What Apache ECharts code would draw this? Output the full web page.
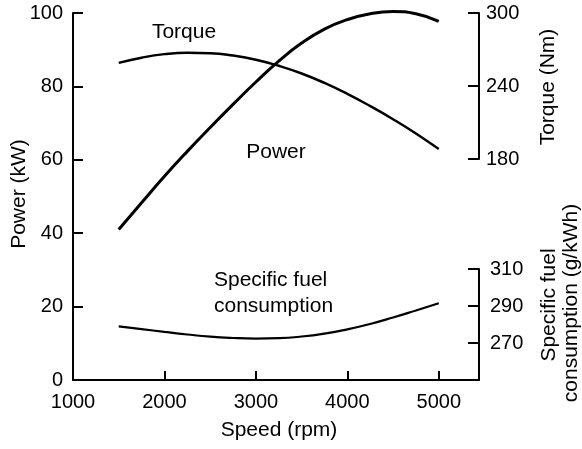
<!DOCTYPE html>
<html>
<head>
<meta charset="utf-8">
<script src="https://cdn.jsdelivr.net/npm/echarts@6/dist/echarts.min.js"></script>
<style>
  html, body { margin: 0; padding: 0; background: #fff; }
  #chart { width: 582px; height: 449px; }
</style>
</head>
<body>
<div id="chart"></div>
<script>
// engine speed (rpm)
const speed = [1500, 1750, 2000, 2250, 2500, 2750, 3000, 3250, 3500, 3750, 4000, 4250, 4500, 4750, 5000];
// power (kW)
const power = [41, 48.3, 55.5, 62.3, 68.8, 75.1, 81.2, 86.9, 91.8, 95.6, 98.2, 99.8, 100.4, 99.8, 97.7];
// torque (Nm)
const torque = [259, 263.3, 266.2, 267.4, 267, 265, 261.6, 256.6, 250.3, 242.5, 233.5, 223.5, 212.7, 201, 188.2];
// specific fuel consumption (g/kWh)
const sfc = [279, 277.5, 276, 274.6, 273.4, 272.7, 272.4, 272.6, 273.5, 275.1, 277.4, 280.3, 283.8, 287.6, 291.5];

const font = "'Liberation Sans', Arial, Helvetica, sans-serif";
const fs = 20;   // tick labels
const ts = 21;   // titles and curve labels

const pairs = (ys) => speed.map((x, i) => [x, ys[i]]);
const plain = (v) => String(v);

const chart = echarts.init(document.getElementById('chart'));

const hiddenX = (idx) => ({
  type: 'value', gridIndex: idx, min: 1000, max: 5440, show: false
});

const txt = (x, y, text, extra) => Object.assign({
  type: 'text', x: x, y: y,
  style: { text: text, font: ts + 'px ' + font, fill: '#000', align: 'center', verticalAlign: 'middle' }
}, extra || {});

const option = {
  animation: false,
  backgroundColor: '#fff',
  grid: [
    { left: 73, right: 103, top: 13, height: 367 },
    { left: 73, right: 103, top: 13, height: 146 },
    { left: 73, right: 103, top: 269, height: 111 }
  ],
  xAxis: [
    {
      type: 'value', gridIndex: 0, min: 1000, max: 5440, interval: 1000,
      axisLine: { lineStyle: { color: '#000', width: 2 } },
      axisTick: { inside: true, length: 9, lineStyle: { color: '#000', width: 2 } },
      axisLabel: { color: '#000', fontFamily: font, fontSize: fs, margin: 12, showMaxLabel: false, formatter: plain },
      splitLine: { show: false }
    },
    hiddenX(1),
    hiddenX(2)
  ],
  yAxis: [
    {
      type: 'value', gridIndex: 0, min: 0, max: 100, interval: 20,
      axisLine: { show: true, lineStyle: { color: '#000', width: 2 } },
      axisTick: { show: true, inside: true, length: 10, lineStyle: { color: '#000', width: 2 } },
      axisLabel: { color: '#000', fontFamily: font, fontSize: fs, margin: 10, formatter: plain },
      splitLine: { show: false }
    },
    {
      type: 'value', gridIndex: 1, position: 'right', min: 180, max: 300, interval: 60,
      axisLine: { show: true, lineStyle: { color: '#000', width: 2 } },
      axisTick: { show: true, inside: true, length: 11, lineStyle: { color: '#000', width: 2 } },
      axisLabel: { color: '#000', fontFamily: font, fontSize: fs, margin: 7, formatter: plain },
      splitLine: { show: false }
    },
    {
      type: 'value', gridIndex: 2, position: 'right', min: 250, max: 310, interval: 20,
      axisLine: { show: true, lineStyle: { color: '#000', width: 2 } },
      axisTick: { show: true, inside: true, length: 11, lineStyle: { color: '#000', width: 2 } },
      axisLabel: { color: '#000', fontFamily: font, fontSize: fs, margin: 11, showMinLabel: false, formatter: plain },
      splitLine: { show: false }
    }
  ],
  series: [
    {
      name: 'Power', type: 'line', xAxisIndex: 0, yAxisIndex: 0,
      data: pairs(power), smooth: 0.5, showSymbol: false, clip: false,
      lineStyle: { color: '#000', width: 3 }
    },
    {
      name: 'Torque', type: 'line', xAxisIndex: 1, yAxisIndex: 1,
      data: pairs(torque), smooth: 0.5, showSymbol: false, clip: false,
      lineStyle: { color: '#000', width: 2.5 }
    },
    {
      name: 'Specific fuel consumption', type: 'line', xAxisIndex: 2, yAxisIndex: 2,
      data: pairs(sfc), smooth: 0.5, showSymbol: false, clip: false,
      lineStyle: { color: '#000', width: 2.2 }
    }
  ],
  graphic: [
    // curve labels
    txt(184, 32, 'Torque'),
    txt(276, 152, 'Power'),
    txt(214, 280, 'Specific fuel', { style: { text: 'Specific fuel', font: ts + 'px ' + font, fill: '#000', align: 'left', verticalAlign: 'middle' } }),
    txt(214, 306, 'consumption', { style: { text: 'consumption', font: ts + 'px ' + font, fill: '#000', align: 'left', verticalAlign: 'middle' } }),
    // axis titles
    txt(279, 430, 'Speed (rpm)'),
    txt(19, 194, 'Power (kW)', { rotation: Math.PI / 2 }),
    txt(548, 87, 'Torque (Nm)', { rotation: Math.PI / 2 }),
    txt(549, 305, 'Specific fuel', { rotation: Math.PI / 2 }),
    txt(571, 303, 'consumption (g/kWh)', { rotation: Math.PI / 2 })
  ]
};

chart.setOption(option);
</script>
</body>
</html>
